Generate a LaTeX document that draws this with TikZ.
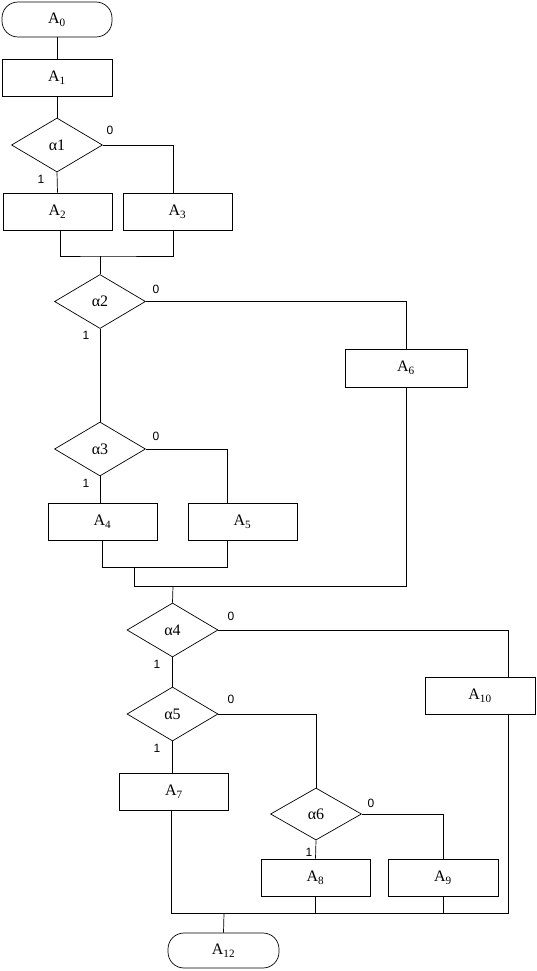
\documentclass[tikz,border=0pt]{standalone}
\usepackage{fontspec}
\setmainfont{Liberation Serif}
\newfontfamily\lblfont{Liberation Sans}
\usetikzlibrary{shapes.geometric}

\begin{document}
\begin{tikzpicture}[
    x=1pt, y=-1pt,
    every node/.style={font=\fontsize{16}{19}\selectfont},
    flowline/.style={line width=0.7pt, draw=black},
    procbox/.style={draw, line width=0.7pt, rectangle, minimum width=109pt, minimum height=37pt, inner sep=0pt},
    termbox/.style={procbox, rounded corners=16pt, minimum height=35pt},
    decbox/.style={draw, line width=0.7pt, diamond, aspect=1.7, minimum width=91pt, minimum height=54pt, inner sep=0pt},
    branchlbl/.style={font=\lblfont\fontsize{12}{14}\selectfont, inner sep=0pt}
]
\useasboundingbox (0,0) rectangle (537,971);

% ============================
% Top: A0 .. alpha1
% ============================
\node[termbox, minimum width=110pt] (A0) at (57,19.5) {A\textsubscript{0}};
\node[procbox, minimum width=110pt] (A1) at (57,77.5) {A\textsubscript{1}};
\node[decbox] (a1) at (57,145) {α1};
\node[branchlbl] (a1zero) at (110,130) {0};
\node[branchlbl] (a1one) at (41,179) {1};
\node[procbox] (A2) at (57.5,211.5) {A\textsubscript{2}};
\node[procbox] (A3) at (177.5,211.5) {A\textsubscript{3}};
\coordinate (join1) at (100,256);

\draw[flowline] (A0.south) -- (A1.north);
\draw[flowline] (A1.south) -- (a1.north);
\draw[flowline] (a1.south) -- (A2.north);
\draw[flowline] (a1.east) -| ([xshift=-4.5pt]A3.north);
\draw[flowline] ([xshift=2.5pt]A2.south) |- (join1) -| ([xshift=-4.5pt]A3.south);

% ============================
% Middle: alpha2, alpha3
% ============================
\node[decbox] (a2) at (100,301.5) {α2};
\node[branchlbl] (a2zero) at (156,289) {0};
\node[branchlbl] (a2one) at (86,335) {1};
\node[procbox, minimum width=122pt, minimum height=38pt] (A6) at (406,368) {A\textsubscript{6}};

\node[decbox] (a3) at (100,449) {α3};
\node[branchlbl] (a3zero) at (156,436) {0};
\node[branchlbl] (a3one) at (86,483) {1};
\node[procbox] (A4) at (102.5,522) {A\textsubscript{4}};
\node[procbox] (A5) at (242.5,521.5) {A\textsubscript{5}};
\coordinate (join2) at (134,567);
\coordinate (join3) at (173,586);

\draw[flowline] (join1) -- (a2.north);
\draw[flowline] (a2.east) -| (A6.north);
\draw[flowline] (a2.south) -- (a3.north);
\draw[flowline] (a3.south) -- (a3.south |- A4.north);
\draw[flowline] (a3.east) -| ([xshift=-15.5pt]A5.north);
\draw[flowline] (A4.south) -- (A4.south |- join2) -| ([xshift=-15.5pt]A5.south);
\draw[flowline] (join2) |- (A6.south |- join3) -- (A6.south);

% ============================
% Bottom: alpha4 .. A12
% ============================
\node[decbox] (a4) at (172.5,630) {α4};
\node[branchlbl] (a4zero) at (231,616) {0};
\node[branchlbl] (a4one) at (157,664) {1};
\node[procbox, minimum width=110pt] (A10) at (480,696) {A\textsubscript{10}};

\node[decbox] (a5) at (172.5,714) {α5};
\node[branchlbl] (a5zero) at (231,699) {0};
\node[branchlbl] (a5one) at (157,748) {1};
\node[procbox] (A7) at (174,791.5) {A\textsubscript{7}};

\node[decbox, minimum height=52pt] (a6) at (316,814) {α6};
\node[branchlbl] (a6zero) at (371,803) {0};
\node[branchlbl] (a6one) at (309,852) {1};
\node[procbox] (A8) at (315.5,877.5) {A\textsubscript{8}};
\node[procbox, minimum width=110pt] (A9) at (443,877.5) {A\textsubscript{9}};
\coordinate (join4) at (224,913);
\node[termbox, minimum width=111pt] (A12) at (223.5,950.5) {A\textsubscript{12}};

\draw[flowline] (join3) -- (a4.north);
\draw[flowline] (a4.east) -| ([xshift=28pt]A10.north);
\draw[flowline] (a4.south) -- (a5.north);
\draw[flowline] (a5.south) -- (a5.south |- A7.north);
\draw[flowline] (a5.east) -| (a6.north);
\draw[flowline] (a6.south) -- (A8.north);
\draw[flowline] (a6.east) -| (A9.north);
\draw[flowline] ([xshift=-3pt]A7.south) |- ([xshift=28pt]A10.south |- join4) -- ([xshift=28pt]A10.south);
\draw[flowline] (A8.south) -- (A8.south |- join4);
\draw[flowline] (A9.south) -- (A9.south |- join4);
\draw[flowline] (join4) -- (A12.north);

\end{tikzpicture}
\end{document}
